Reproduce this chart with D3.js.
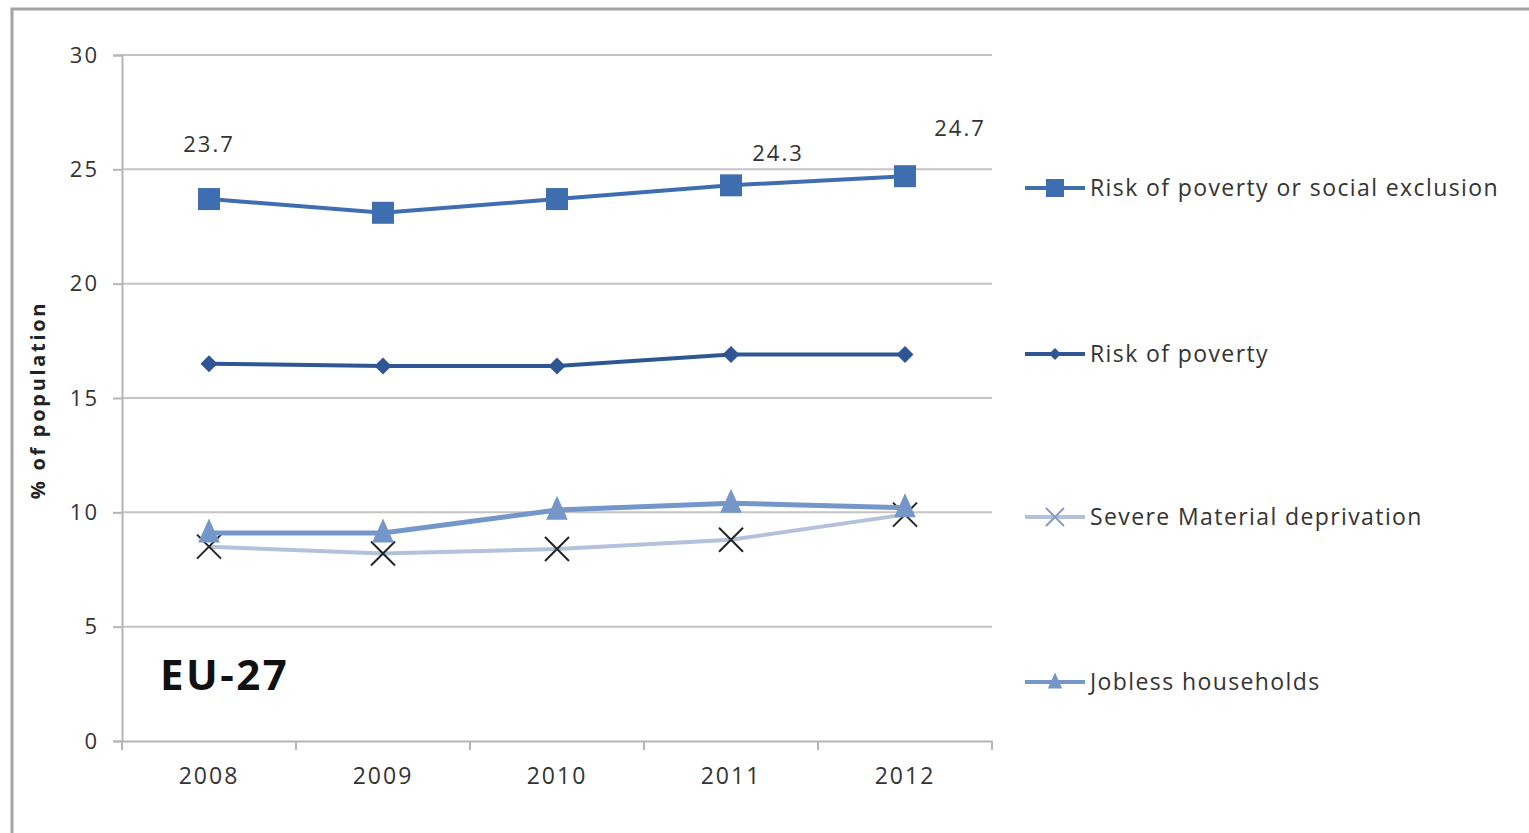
<!DOCTYPE html>
<html><head><meta charset="utf-8">
<script src="https://cdn.jsdelivr.net/npm/d3@7"></script>
<style>body{margin:0;background:#fff;}svg{display:block;}</style>
</head><body><svg id="c" width="1529" height="833"></svg>
<script>
const years = ["2008","2009","2010","2011","2012"];
const seriesNames = ["Risk of poverty or social exclusion","Risk of poverty","Severe Material deprivation","Jobless households"];
const aropeValues = [23.7, 23.1, 23.7, 24.3, 24.7];
const povertyValues = [16.5, 16.4, 16.4, 16.9, 16.9];
const smdValues = [8.5, 8.2, 8.4, 8.8, 9.9];
const joblessValues = [9.1, 9.1, 10.1, 10.4, 10.2];
const yTicks = [0,5,10,15,20,25,30];
const labelled = [[0,"23.7"],[3,"24.3"],[4,"24.7"]];

const svg = d3.select("#c");
const font = "'Open Sans', Lato, sans-serif";
// frame
svg.append("rect").attr("x",12).attr("y",9).attr("width",1540).attr("height",850)
  .attr("fill","none").attr("stroke","#a3a3a3").attr("stroke-width",3);

const x = d3.scaleBand().domain(years).range([122,992]);
const y = d3.scaleLinear().domain([0,30]).range([741,55]);

// gridlines
svg.append("g").selectAll("line").data(yTicks.filter(d=>d>0)).join("line")
  .attr("x1",122).attr("x2",992).attr("y1",d=>y(d)).attr("y2",d=>y(d))
  .attr("stroke","#c4c4c4").attr("stroke-width",2);

// y axis
const ya = svg.append("g").attr("transform","translate(122,0)")
  .call(d3.axisLeft(y).tickValues(yTicks).tickSize(9).tickPadding(14));
ya.select(".domain").attr("stroke","#b5b5b5").attr("stroke-width",2);
ya.selectAll(".tick line").attr("stroke","#b5b5b5").attr("stroke-width",2);
ya.selectAll("text").attr("font-family",font).attr("font-size",22).attr("letter-spacing",2).attr("fill","#333");

// x axis
const xa = svg.append("g").attr("transform","translate(0,741)")
  .call(d3.axisBottom(x).tickSize(0).tickPadding(27));
xa.select(".domain").attr("stroke","#b5b5b5").attr("stroke-width",2);
xa.selectAll("text").attr("font-family",font).attr("font-size",23).attr("letter-spacing",2).attr("fill","#333");
xa.selectAll("line.bnd").data(years.concat(["end"])).join("line").attr("class","bnd")
  .attr("x1",(d,i)=>i<years.length?x(d):x.range()[1]).attr("x2",(d,i)=>i<years.length?x(d):x.range()[1])
  .attr("y1",0).attr("y2",9).attr("stroke","#b5b5b5").attr("stroke-width",2);

// y title
svg.append("text").attr("transform","translate(45,400) rotate(-90)").attr("text-anchor","middle")
  .attr("font-family",font).attr("font-weight","bold").attr("font-size",20).attr("letter-spacing",2.7).attr("fill","#222")
  .text("% of  population");

// EU-27
svg.append("text").attr("x",160).attr("y",690).attr("font-family",font).attr("font-weight","bold")
  .attr("font-size",42).attr("letter-spacing",2.5).attr("fill","#111").text("EU-27");

const cx = d=>x(d)+x.bandwidth()/2;
const line = d3.line().x((d,i)=>cx(years[i])).y(d=>y(d));
const specs = [
  {vals:aropeValues, color:"#3e6db0", w:4, marker:"square", mcol:"#3e6db0", size:22},
  {vals:povertyValues, color:"#2f5694", w:4, marker:"diamond", mcol:"#2f5694", size:17},
  {vals:smdValues, color:"#b3c2dc", w:4, marker:"x", mcol:"#222", size:24},
  {vals:joblessValues, color:"#7596c8", w:5, marker:"triangle", mcol:"#7596c8", size:24}
];
function marker(g, type, px, py, s, col){
  if(type==="square") g.append("rect").attr("x",px-s/2).attr("y",py-s/2).attr("width",s).attr("height",s).attr("fill",col);
  else if(type==="diamond") g.append("path").attr("d",`M${px},${py-s/2}L${px+s/2},${py}L${px},${py+s/2}L${px-s/2},${py}Z`).attr("fill",col);
  else if(type==="triangle") g.append("path").attr("d",`M${px},${py-s*0.6}L${px+s*0.45},${py+s*0.4}L${px-s*0.45},${py+s*0.4}Z`).attr("fill",col);
  else if(type==="x") g.append("path").attr("d",`M${px-s/2},${py-s/2}L${px+s/2},${py+s/2}M${px+s/2},${py-s/2}L${px-s/2},${py+s/2}`).attr("stroke",col).attr("stroke-width",2).attr("fill","none");
}
// draw order: smd, jobless, poverty, arope
[2,3,1,0].forEach(k=>{
  const s = specs[k];
  const g = svg.append("g");
  g.append("path").datum(s.vals).attr("d",line).attr("fill","none").attr("stroke",s.color).attr("stroke-width",s.w);
  s.vals.forEach((v,i)=>marker(g,s.marker,cx(years[i]),y(v),s.size,s.mcol));
});

// data labels
const labOff = {0:[0,-47],3:[47,-24],4:[55,-40]};
labelled.forEach(([i,t])=>{
  svg.append("text").attr("x",cx(years[i])+labOff[i][0]).attr("y",y(aropeValues[i])+labOff[i][1])
    .attr("text-anchor","middle").attr("font-family",font).attr("font-size",22).attr("letter-spacing",2).attr("fill","#333").text(t);
});

// legend
const legY = [188,354,517,682];
seriesNames.forEach((n,k)=>{
  const s = specs[k];
  const g = svg.append("g");
  g.append("line").attr("x1",1025).attr("x2",1085).attr("y1",legY[k]).attr("y2",legY[k]).attr("stroke",k===2?"#b3c2dc":s.color).attr("stroke-width",4);
  marker(g,s.marker,1055,legY[k],k===0?18:(k===1?12:(k===2?18:16)),k===2?"#8a9ab8":s.mcol);
  g.append("text").attr("x",1090).attr("y",legY[k]+8).attr("font-family",font).attr("font-size",23).attr("letter-spacing",1.4).attr("fill","#333").text(n);
});
</script></body></html>
